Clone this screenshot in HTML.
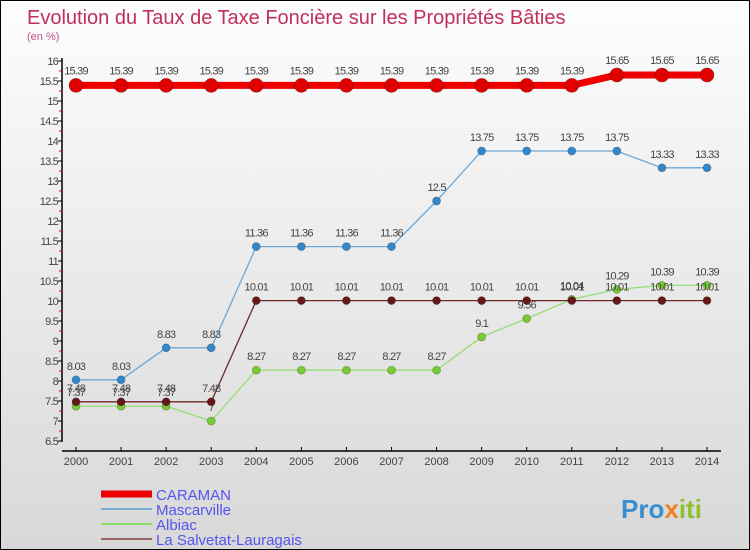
<!DOCTYPE html>
<html><head><meta charset="utf-8"><style>
body{margin:0;}
#wrap{width:750px;height:550px;position:relative;box-sizing:border-box;border:1px solid #000;background:linear-gradient(#fdfdfd,#d8d8d8);font-family:"Liberation Sans",sans-serif;overflow:hidden}
svg{position:absolute;left:0;top:0}
</style></head><body>
<div id="wrap">
<svg id="c" width="750" height="550">
<text x="26" y="23" font-size="20" fill="#c0305a">Evolution du Taux de Taxe Foncière sur les Propriétés Bâties</text>
<text x="26" y="39" font-size="11" fill="#c0508a">(en %)</text>
<text x="620" y="517" font-size="26" font-weight="bold" fill="#3a8fd0">Pro<tspan fill="#f08020">x</tspan><tspan fill="#90c030">iti</tspan></text>
</svg>
</div>
<script>
const years=[2000,2001,2002,2003,2004,2005,2006,2007,2008,2009,2010,2011,2012,2013,2014];
const caraman=[15.39,15.39,15.39,15.39,15.39,15.39,15.39,15.39,15.39,15.39,15.39,15.39,15.65,15.65,15.65];
const mascarville=[8.03,8.03,8.83,8.83,11.36,11.36,11.36,11.36,12.5,13.75,13.75,13.75,13.75,13.33,13.33];
const albiac=[7.37,7.37,7.37,7,8.27,8.27,8.27,8.27,8.27,9.1,9.56,10.04,10.29,10.39,10.39];
const salvetat=[7.48,7.48,7.48,7.48,10.01,10.01,10.01,10.01,10.01,10.01,10.01,10.01,10.01,10.01,10.01];
const yTicks=[6.5,7,7.5,8,8.5,9,9.5,10,10.5,11,11.5,12,12.5,13,13.5,14,14.5,15,15.5,16];
const NS="http://www.w3.org/2000/svg";
const svg=document.getElementById('c');
const X=i=>75+i*(706-75)/(years.length-1);
const Y=v=>60+(16-v)*40;
function mk(t,a,p){const e=document.createElementNS(NS,t);for(const k in a)e.setAttribute(k,a[k]);(p||svg).appendChild(e);return e;}
// axes
let ax=mk('line',{x1:61,y1:57,x2:61,y2:441,stroke:'#000','stroke-width':1.5});


let xa=mk('line',{x1:61,y1:450,x2:720,y2:450,stroke:'#000','stroke-width':1.5});


yTicks.forEach((v,i)=>{
 mk('line',{x1:57,y1:Y(v),x2:61,y2:Y(v),stroke:'#000'});
 if(i<yTicks.length-1)mk('line',{x1:58,y1:Y(v+0.25),x2:61,y2:Y(v+0.25),stroke:'#e00'});
 const t=mk('text',{x:57,y:Y(v)+4,'font-size':11,'text-anchor':'end',fill:'#444','letter-spacing':'-0.8'});
 t.textContent=v;
 
 
});
years.forEach((y,i)=>{
 mk('line',{x1:X(i),y1:446,x2:X(i),y2:450,stroke:'#000'});
 const t=mk('text',{x:X(i),y:464,'font-size':11,'text-anchor':'middle',fill:'#444'});
 t.textContent=y;
 
 
});
function series(name,vals,color,lw,r,dot,labOff){
 const g=mk('g',{});
 
 
 mk('polyline',{points:vals.map((v,i)=>X(i)+','+Y(v)).join(' '),fill:'none',stroke:color,'stroke-width':lw},g);
 vals.forEach((v,i)=>{
  const c=mk('circle',{cx:X(i),cy:Y(v),r:r,fill:dot,stroke:'rgba(0,0,0,0.3)','stroke-width':0.7},g);
  
  
  const t=mk('text',{x:X(i),y:Y(v)+labOff,'font-size':11,'text-anchor':'middle',fill:'#444','letter-spacing':'-0.8'},g);
  t.textContent=v;
  
  
 });
}
series('albiac',albiac,'#99dd77',1.3,4,'#77cc33',-10);
series('salvetat',salvetat,'#6e2a2a',1.3,4,'#661818',-10);
series('mascarville',mascarville,'#6aa8d8',1.3,4,'#3388cc',-10);
series('caraman',caraman,'#ee0000',7,7,'#e00000',-11);
// legend
const leg=[['CARAMAN','#ee0000',7],['Mascarville','#7aaed0',2],['Albiac','#88dd66',2],['La Salvetat-Lauragais','#996666',2]];
leg.forEach((l,i)=>{
 const y=493+i*15;
 const g=mk('g',{});
 
 
 mk('line',{x1:100,y1:y,x2:151,y2:y,stroke:l[1],'stroke-width':l[2]},g);
 const t=mk('text',{x:155,y:y+6,'font-size':15,fill:'#5555ee'},g);
 t.textContent=l[0];
});
</script>
</body></html>
